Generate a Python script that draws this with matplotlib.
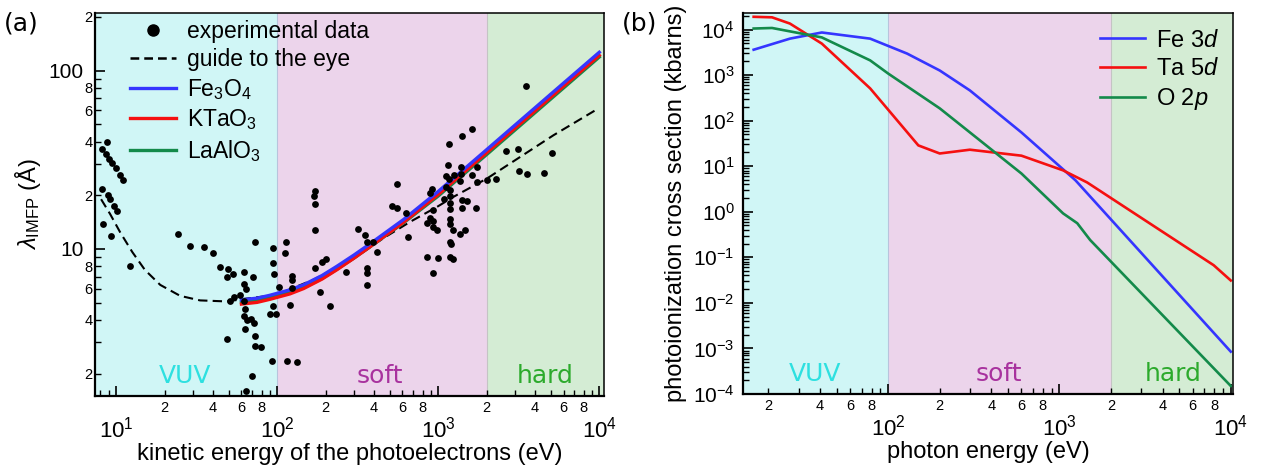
import numpy as np
import matplotlib.pyplot as plt
from matplotlib.ticker import LogLocator, FuncFormatter, NullFormatter, LogFormatterSciNotation
from matplotlib.lines import Line2D

plt.rcParams['font.family'] = ['Liberation Sans', 'DejaVu Sans']
plt.rcParams['mathtext.fontset'] = 'custom'
plt.rcParams['mathtext.rm'] = 'Liberation Sans'
plt.rcParams['mathtext.it'] = 'Liberation Sans:italic'
plt.rcParams['mathtext.bf'] = 'Liberation Sans:bold'

# (a) inelastic mean free path
exp_energy = [8.75, 8.15, 8.66, 9.05, 9.40, 9.96, 10.6, 11.0, 8.22, 8.88, 9.18, 9.72, 10.1,
              8.34, 9.31, 12.2, 24.4, 28.8, 35.2, 39.9, 44.3, 49.8, 72.5, 49.1, 53.5, 62.4,
              71.2, 62.7, 63.9, 58.9, 54.3, 51.1, 62.7, 63.0, 62.7, 64.8, 69.0, 72.3, 63.6,
              48.7, 73.0, 73.0, 79.5, 93.1, 70.2, 63.9, 94.0, 94.0, 95.8, 103, 94.8, 90.5,
              98.6, 113, 112, 123, 123, 123, 120, 115, 133, 172, 171, 191, 201, 184, 213,
              266, 171, 169, 171, 319, 349, 361, 396, 416, 361, 362, 362, 556, 520, 554,
              630, 651, 892, 909, 851, 922, 982, 883, 927, 851, 995, 927, 922, 3520, 1610,
              1400, 1170, 1150, 1380, 1750, 1120, 1160, 1260, 1390, 1630, 1370, 1750, 2010,
              2290, 2640, 3150, 3170, 3560, 4530, 5060, 1110, 1176, 1188, 1080, 1400, 1510,
              1176, 1188, 1400, 1720, 1176, 1188, 1227, 1457, 1370, 1176, 1205, 1176, 1227]
exp_imfp = [39.7, 36.2, 33.9, 32.1, 30.3, 28.6, 26.1, 24.3, 21.8, 20.1, 19.0, 17.5, 16.4,
            13.8, 11.8, 8.03, 12.1, 10.4, 10.3, 9.46, 7.90, 7.76, 11.0, 6.95, 7.22, 7.41,
            7.00, 6.35, 5.98, 5.53, 5.35, 5.14, 5.08, 4.61, 4.19, 4.01, 4.05, 3.85, 3.56,
            3.14, 3.24, 2.85, 2.82, 2.35, 1.94, 1.60, 10.1, 8.35, 7.25, 6.11, 4.80, 4.33,
            4.33, 10.9, 9.44, 7.06, 6.67, 6.03, 4.85, 2.37, 2.34, 12.8, 7.80, 8.49, 8.83,
            5.77, 4.81, 7.44, 21.2, 19.9, 17.9, 13.0, 12.0, 11.0, 10.9, 9.66, 7.80, 7.37,
            6.29, 23.0, 17.5, 16.9, 16.0, 11.7, 20.5, 21.7, 13.9, 13.2, 12.7, 15.0, 14.3,
            9.06, 8.94, 7.31, 16.5, 81.4, 47.2, 42.8, 38.9, 29.6, 28.8, 28.7, 25.7, 24.8,
            26.1, 26.2, 26.0, 24.0, 23.7, 24.5, 24.8, 35.4, 36.5, 27.2, 26.2, 26.7, 34.5,
            22.3, 21.4, 19.9, 19.0, 18.8, 18.6, 18.0, 16.7, 16.9, 16.9, 14.8, 13.8, 12.8,
            12.8, 12.2, 11.0, 10.6, 8.99, 8.83]

guide_energy = [8.07, 9.18, 10.6, 12.6, 15.1, 18.8, 25.0, 33.2, 48.9, 63.3, 84.2, 104, 167,
                284, 457, 670, 982, 1245, 2005, 3230, 5200, 9580]
guide_imfp = [19.0, 15.7, 12.4, 9.62, 7.63, 6.29, 5.46, 5.15, 5.08, 5.26, 5.43, 5.64, 6.71,
              8.57, 11.5, 14.2, 17.2, 19.6, 24.8, 32.8, 43.4, 60.3]

calc_energy = [60, 75, 90, 120, 146, 190, 235, 300, 378, 608, 1000, 2005, 5200, 10000]
imfp_fe3o4 = [5.19, 5.30, 5.50, 5.90, 6.30, 7.10, 8.00, 9.25, 10.7, 14.6, 21.0, 36.1, 76.0, 126.5]
imfp_ktao3 = [4.91, 5.02, 5.22, 5.60, 6.00, 6.78, 7.65, 8.88, 10.3, 14.1, 20.2, 34.7, 73.0, 121.5]
imfp_laalo3 = [5.05, 5.15, 5.33, 5.70, 6.08, 6.84, 7.70, 8.90, 10.3, 14.0, 19.8, 33.9, 71.4, 119.0]

# (b) photoionization cross sections
fe3d_energy = [16.4, 26.7, 41, 78.5, 129, 200, 300, 600, 1240, 10000]
fe3d_sigma = [3.6e3, 6.3e3, 8.6e3, 6.3e3, 2.96e3, 1.26e3, 4.6e2, 55, 4.9, 8.5e-4]
ta5d_energy = [16.4, 21, 26.7, 41, 78.5, 150, 200, 300, 600, 1050, 1450, 7950, 10000]
ta5d_sigma = [1.9e4, 1.85e4, 1.35e4, 4.9e3, 5.1e2, 28.6, 19, 23, 17, 8.1, 4.4, 0.067, 0.031]
o2p_energy = [16.4, 21, 41, 78.5, 100, 200, 600, 1050, 1270, 1510, 10000]
o2p_sigma = [1.05e4, 1.08e4, 6.7e3, 2.1e3, 1.08e3, 1.86e2, 6.9, 0.92, 0.56, 0.24, 1.5e-4]

region_names = ['VUV', 'soft', 'hard']
region_edges = [1, 100, 2000, 1e5]
region_fill = ['#d0f6f6', '#ecd4eb', '#d4ecd4']
region_text = ['#2ee0e0', '#a8329e', '#2caa2c']

BLUE = '#3535ff'
RED = '#f51010'
GREEN = '#138a4a'


def minor_digits(v, pos):
    d = int(round(v / 10 ** np.floor(np.log10(v) + 1e-9)))
    return str(d) if d in (2, 4, 6, 8) else ''


def minor_digits_x_a(v, pos):
    if v < 10:
        return ''
    return minor_digits(v, pos)


def style_axes(ax):
    for s in ['left', 'bottom']:
        ax.spines[s].set_linewidth(1.6)
    for s in ['top', 'right']:
        ax.spines[s].set_linewidth(1.1)
    ax.tick_params(which='both', direction='in', top=False, right=False)
    ax.tick_params(which='major', length=7, width=1.2, labelsize=15)
    ax.tick_params(which='minor', length=4, width=1.0, labelsize=10.5)
    ax.tick_params(axis='x', which='major', pad=15, labelsize=16)
    ax.tick_params(axis='x', which='minor', pad=3.5)


def draw_regions(ax, label_x):
    for i in range(3):
        ax.axvspan(region_edges[i], region_edges[i + 1], color=region_fill[i], lw=0, zorder=0)
        ax.text(label_x[i], 0.02, region_names[i], color=region_text[i], fontsize=18,
                family='DejaVu Sans', ha='center', va='bottom',
                transform=ax.get_xaxis_transform())
    ax.axvline(100, color='#b8c4dc', lw=0.8, zorder=0.5)
    ax.axvline(2000, color='#c4c4c4', lw=0.8, zorder=0.5)


fig = plt.figure(figsize=(12.62, 4.65), dpi=100)
ax1 = fig.add_axes([0.0753, 0.1484, 0.4033, 0.8236])
ax2 = fig.add_axes([0.5887, 0.1527, 0.3883, 0.8193])

# ---- panel (a)
draw_regions(ax1, [26.8, 437, 4620])
ax1.plot(guide_energy, guide_imfp, '--', color='black', lw=1.5, dashes=(4.5, 2.5), zorder=2)
ax1.plot(calc_energy, imfp_laalo3, color=GREEN, lw=2.4, zorder=3)
ax1.plot(calc_energy, imfp_ktao3, color=RED, lw=2.4, zorder=3)
ax1.plot(calc_energy, imfp_fe3o4, color=BLUE, lw=2.4, zorder=3)
ax1.scatter(exp_energy, exp_imfp, s=24, color='black', lw=0, zorder=4)
ax1.set_xscale('log')
ax1.set_yscale('log')
ax1.set_xlim(7.4, 1.07e4)
ax1.set_ylim(1.5, 210)
style_axes(ax1)
ax1.tick_params(axis='y', which='major', pad=8)
ax1.tick_params(axis='y', which='minor', pad=2)
ax1.xaxis.set_major_locator(LogLocator(base=10, numticks=20))
ax1.xaxis.set_minor_locator(LogLocator(base=10, subs=np.arange(2, 10), numticks=100))
ax1.xaxis.set_major_formatter(LogFormatterSciNotation())
ax1.xaxis.set_minor_formatter(FuncFormatter(minor_digits_x_a))
ax1.yaxis.set_major_locator(LogLocator(base=10, numticks=20))
ax1.yaxis.set_minor_locator(LogLocator(base=10, subs=np.arange(2, 10), numticks=100))
ax1.yaxis.set_major_formatter(FuncFormatter(lambda v, p: f'{v:g}'))
ax1.yaxis.set_minor_formatter(FuncFormatter(minor_digits))
ax1.set_xlabel('kinetic energy of the photoelectrons (eV)', fontsize=17, labelpad=0)
ax1.set_ylabel(r'$\lambda_{\mathrm{IMFP}}$ (Å)', fontsize=17, labelpad=4)

handles = [Line2D([], [], ls='none', marker='o', ms=8, color='black'),
           Line2D([], [], ls='--', color='black', lw=1.8, dashes=(3.5, 2)),
           Line2D([], [], color=BLUE, lw=2.4),
           Line2D([], [], color=RED, lw=2.4),
           Line2D([], [], color=GREEN, lw=2.4)]
labels = ['experimental data', 'guide to the eye', r'Fe$_3$O$_4$', r'KTaO$_3$', r'LaAlO$_3$']
ax1.legend(handles, labels, loc='upper left', bbox_to_anchor=(0.055, 1.0), frameon=False,
           fontsize=16.5, handlelength=2.0, handletextpad=0.5, labelspacing=0.24,
           borderaxespad=0.1, borderpad=0.2)

# ---- panel (b)
draw_regions(ax2, [37.4, 440, 4640])
ax2.plot(fe3d_energy, fe3d_sigma, color=BLUE, lw=1.9, label=r'Fe $\mathit{3d}$')
ax2.plot(ta5d_energy, ta5d_sigma, color=RED, lw=1.9, label=r'Ta $\mathit{5d}$')
ax2.plot(o2p_energy, o2p_sigma, color=GREEN, lw=1.9, label=r'O $\mathit{2p}$')
ax2.set_xscale('log')
ax2.set_yscale('log')
ax2.set_xlim(14.2, 1.03e4)
ax2.set_ylim(1e-4, 2.3e4)
style_axes(ax2)
ax2.tick_params(axis='y', which='major', pad=6)
ax2.xaxis.set_major_locator(LogLocator(base=10, numticks=20))
ax2.xaxis.set_minor_locator(LogLocator(base=10, subs=np.arange(2, 10), numticks=100))
ax2.xaxis.set_major_formatter(LogFormatterSciNotation())
ax2.xaxis.set_minor_formatter(FuncFormatter(minor_digits))
ax2.yaxis.set_major_locator(LogLocator(base=10, numticks=20))
ax2.yaxis.set_minor_locator(LogLocator(base=10, subs=np.arange(2, 10), numticks=200))
ax2.yaxis.set_major_formatter(LogFormatterSciNotation())
ax2.yaxis.set_minor_formatter(NullFormatter())
ax2.set_xlabel('photon energy (eV)', fontsize=17, labelpad=0)
ax2.set_ylabel('photoionization cross section (kbarns)', fontsize=17, labelpad=4)
ax2.legend(loc='upper right', bbox_to_anchor=(0.985, 0.975), frameon=False, fontsize=17,
           handlelength=1.9, handletextpad=0.45, labelspacing=0.26,
           borderaxespad=0.1, borderpad=0.2)

fig.text(0.003, 0.975, '(a)', fontsize=18, family='DejaVu Sans', va='top')
fig.text(0.493, 0.975, '(b)', fontsize=18, family='DejaVu Sans', va='top')

fig.savefig('out.png', dpi=100)
